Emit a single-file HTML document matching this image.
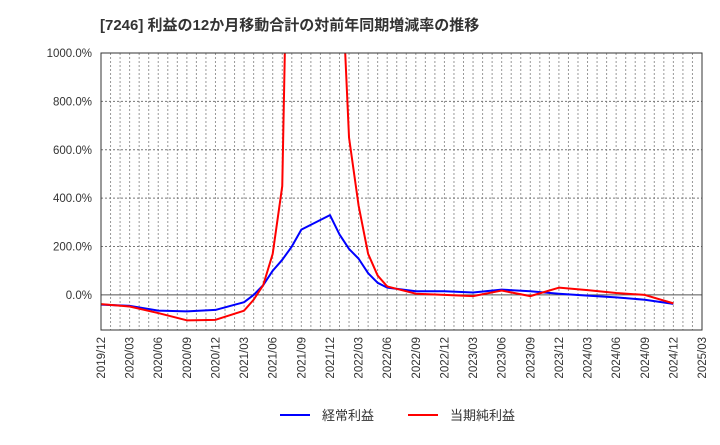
<!DOCTYPE html>
<html><head><meta charset="utf-8"><style>
body{margin:0;background:#fff;font-family:"Liberation Sans","Noto Sans CJK JP",sans-serif}
</style></head><body>
<svg width="720" height="440" xmlns="http://www.w3.org/2000/svg" font-family="Liberation Sans, Noto Sans CJK JP, sans-serif">
<text x="100" y="30" font-size="15" font-weight="bold" fill="#333">[7246]  利益の12か月移動合計の対前年同期増減率の推移</text>
<defs><clipPath id="pc"><rect x="101" y="53" width="601" height="277"/></clipPath></defs>
<g id="grid"></g>
<g id="ylab"></g>
<g id="xlab"></g>
<g clip-path="url(#pc)" id="series"></g>
<rect x="101" y="53" width="601" height="277" fill="none" stroke="#333"/>
<g>
<line x1="280" y1="415" x2="310" y2="415" stroke="#0000ff" stroke-width="2"/>
<text x="322" y="420" font-size="13" fill="#333">経常利益</text>
<line x1="408" y1="415" x2="438" y2="415" stroke="#ff0000" stroke-width="2"/>
<text x="450" y="420" font-size="13" fill="#333">当期純利益</text>
</g>
</svg>
<script>
const xLabels=["2019/12","2020/03","2020/06","2020/09","2020/12","2021/03","2021/06","2021/09","2021/12","2022/03","2022/06","2022/09","2022/12","2023/03","2023/06","2023/09","2023/12","2024/03","2024/06","2024/09","2024/12","2025/03"];
const yTicks=[0,200,400,600,800,1000];
const blueMonths=[0,3,6,9,12,15,16,17,18,19,20,21,24,25,26,27,28,29,30,33,36,39,42,45,48,51,54,57,60];
const blueValues=[-40,-45,-65,-68,-62,-30,0,40,100,145,200,270,330,250,190,150,90,50,30,15,15,10,22,15,5,-3,-10,-20,-37];
const redMonths=[0,3,6,9,12,15,16,17,18,19,20,25,26,27,28,29,30,33,36,39,42,45,48,51,54,57,60];
const redValues=[-38,-48,-75,-105,-103,-65,-20,40,170,450,2500,1525,650,370,170,80,35,5,0,-5,18,-5,30,20,8,0,-35];
const NS="http://www.w3.org/2000/svg";
const X0=101,X1=702,Y0=53,Y1=330,YMAX=1000,YMIN=-145,NM=63;
const xs=m=>X0+m*(X1-X0)/NM;
const ys=v=>Y0+(YMAX-v)*(Y1-Y0)/(YMAX-YMIN);
function mk(t,a,p){const e=document.createElementNS(NS,t);for(const k in a)e.setAttribute(k,a[k]);p.appendChild(e);return e;}
const grid=document.getElementById('grid');
for(let m=1;m<NM;m++){
 const l=mk('line',{x1:xs(m),x2:xs(m),y1:Y0,y2:Y1,stroke:'#999','stroke-dasharray':'2,2','stroke-width':1},grid);
 
 
}
const yl=document.getElementById('ylab');
yTicks.forEach(v=>{
 const l=mk('line',{x1:X0,x2:X1,y1:ys(v),y2:ys(v),stroke:v===0?'#555':'#777','stroke-dasharray':v===0?'':'2,2'},grid);
 
 
 const t=mk('text',{x:92,y:ys(v)+4,'text-anchor':'end','font-size':11.5,fill:'#333'},yl);
 t.textContent=v.toFixed(1)+'%';
 
 
});
const xl=document.getElementById('xlab');
xLabels.forEach((s,i)=>{
 const x=xs(i*3);
 const t=mk('text',{x:0,y:0,transform:`translate(${x+4},337) rotate(-90)`,'text-anchor':'end','font-size':11.5,fill:'#333'},xl);
 t.textContent=s;
 
 
});
const sg=document.getElementById('series');
function line(ms,vs,c,name){
 const p=mk('polyline',{points:ms.map((m,i)=>xs(m)+','+ys(vs[i])).join(' '),fill:'none',stroke:c,'stroke-width':2,'stroke-linejoin':'round'},sg);
 
 
}
line(blueMonths,blueValues,'#0000ff','series-keijo-rieki');
line(redMonths,redValues,'#ff0000','series-touki-junrieki');
</script>
</body></html>
